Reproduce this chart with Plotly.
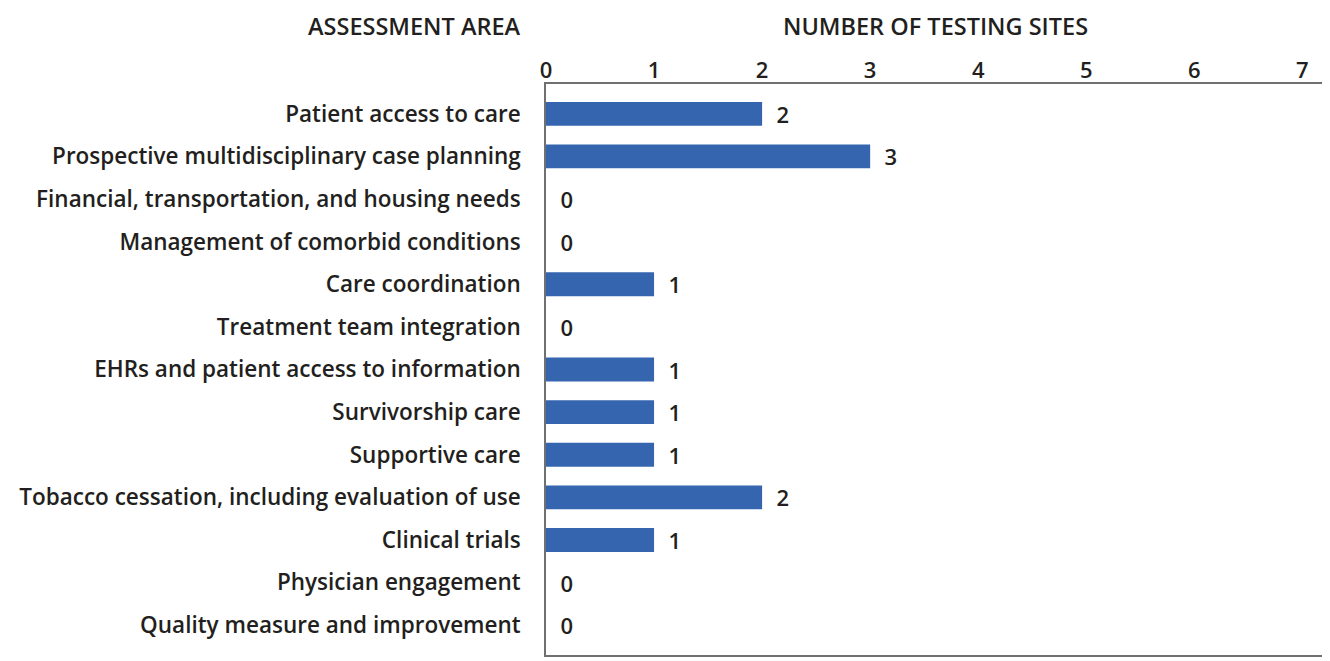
import plotly.graph_objects as go

categories = [
    "Patient access to care",
    "Prospective multidisciplinary case planning",
    "Financial, transportation, and housing needs",
    "Management of comorbid conditions",
    "Care coordination",
    "Treatment team integration",
    "EHRs and patient access to information",
    "Survivorship care",
    "Supportive care",
    "Tobacco cessation, including evaluation of use",
    "Clinical trials",
    "Physician engagement",
    "Quality measure and improvement",
]
sites = [2, 3, 0, 0, 1, 0, 1, 1, 1, 2, 1, 0, 0]
x_ticks = [0, 1, 2, 3, 4, 5, 6, 7]

FONT = "Open Sans"
TXT = "#231F20"
BAR = "#3465AE"
FS = 22.5
HFS = 23.5
W = 600

fig = go.Figure()
fig.add_trace(go.Bar(
    x=sites,
    y=categories,
    orientation="h",
    marker=dict(color=BAR, line=dict(width=0)),
    width=0.56,
    text=sites,
    texttemplate="  %{x}",
    textposition="outside",
    constraintext="none",
    textfont=dict(family=FONT, size=22, color=TXT, weight=W),
    cliponaxis=False,
    hoverinfo="skip",
))

fig.update_layout(
    width=1322, height=653,
    margin=dict(l=538, r=5, t=76, b=4),
    paper_bgcolor="white",
    plot_bgcolor="white",
    showlegend=False,
    font=dict(family=FONT, size=FS, color=TXT, weight=W),
    xaxis=dict(
        side="top",
        range=[0, 7.2],
        tickvals=x_ticks,
        ticktext=[str(v) for v in x_ticks],
        showgrid=False,
        zeroline=False,
        showline=True,
        mirror=True,
        linecolor="#707070",
        linewidth=1.5,
        ticks="",
        ticklabelstandoff=-5,
        tickfont=dict(family=FONT, size=22, color=TXT, weight=W),
    ),
    yaxis=dict(
        categoryorder="array",
        categoryarray=categories,
        range=[12.7, -0.7],
        showgrid=False,
        zeroline=False,
        showline=True,
        mirror=True,
        linecolor="#707070",
        linewidth=1.5,
        ticks="",
        ticklabelstandoff=19,
        tickfont=dict(family=FONT, size=FS, color=TXT, weight=W),
    ),
    annotations=[
        dict(text="ASSESSMENT AREA", xref="paper", yref="paper",
             x=-0.031, y=1.0, yshift=41, xanchor="right", yanchor="bottom",
             showarrow=False, borderpad=0,
             font=dict(family=FONT, size=HFS, color=TXT, weight=W)),
        dict(text="NUMBER OF TESTING SITES", xref="paper", yref="paper",
             x=0.5, y=1.0, yshift=41, xanchor="center", yanchor="bottom",
             showarrow=False, borderpad=0,
             font=dict(family=FONT, size=HFS, color=TXT, weight=W)),
    ],
)

fig.write_html("out.html")
